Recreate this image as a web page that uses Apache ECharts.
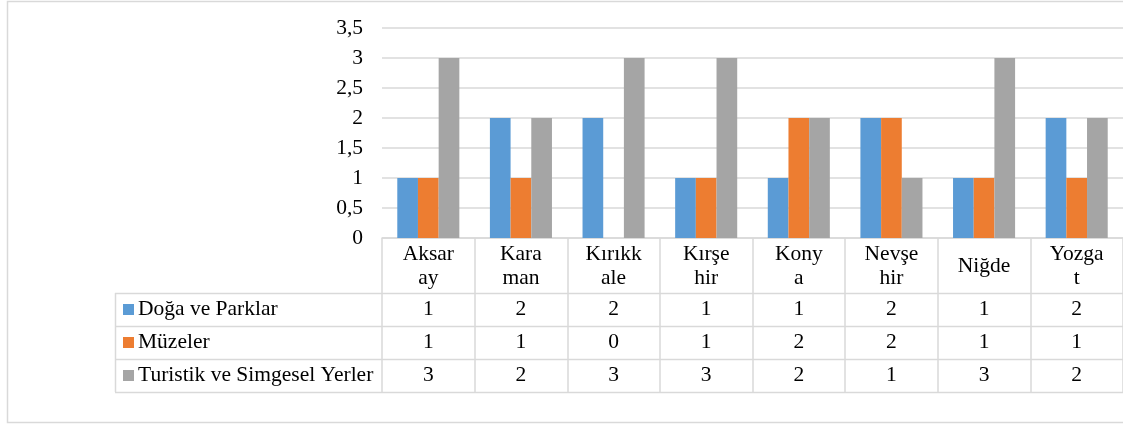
<!DOCTYPE html>
<html>
<head>
<meta charset="utf-8">
<script src="https://cdn.jsdelivr.net/npm/echarts@6/dist/echarts.min.js"></script>
<style>
  html, body { margin: 0; padding: 0; background: #fff; }
  #chart { width: 1123px; height: 424px; }
</style>
</head>
<body>
<div id="chart"></div>
<script>
// Province names as they wrap in the header cells of the data table
const categories = ['Aksar\nay', 'Kara\nman', 'Kırıkk\nale', 'Kırşe\nhir', 'Kony\na', 'Nevşe\nhir', 'Niğde', 'Yozga\nt'];
const seriesNames = ['Doğa ve Parklar', 'Müzeler', 'Turistik ve Simgesel Yerler'];
const dogaVeParklar = [1, 2, 2, 1, 1, 2, 1, 2];
const muzeler = [1, 1, 0, 1, 2, 2, 1, 1];
const turistikYerler = [3, 2, 3, 3, 2, 1, 3, 2];
const seriesValues = [dogaVeParklar, muzeler, turistikYerler];
const seriesColors = ['#5B9BD5', '#ED7D31', '#A5A5A5'];

const FONT = "'Liberation Serif', 'Times New Roman', 'DejaVu Serif', serif";
const FONT_SIZE = 21.5;
const LINE = '#d9d9d9';

// Layout of the plot and the data table under it
const plotLeft = 382, plotTop = 28, plotHeight = 210, catWidth = 93.2;
const headerBottom = 293, rowHeight = 33, tableLeft = 115;

const chart = echarts.init(document.getElementById('chart'));

const option = {
  backgroundColor: '#fff',
  animation: false,
  grid: { left: plotLeft, top: plotTop, width: catWidth * categories.length, height: plotHeight },
  xAxis: {
    type: 'category',
    data: categories,
    axisLine: { lineStyle: { color: LINE, width: 1.5 } },
    axisTick: { show: true, length: headerBottom - (plotTop + plotHeight) + rowHeight * 3, lineStyle: { color: LINE, width: 1.5 } },
    axisLabel: {
      interval: 0, margin: 28, verticalAlign: 'middle', align: 'center',
      fontFamily: FONT, fontSize: FONT_SIZE, lineHeight: 24, color: '#000'
    }
  },
  yAxis: {
    type: 'value', min: 0, max: 3.5, interval: 0.5,
    axisLine: { show: false }, axisTick: { show: false },
    splitLine: { lineStyle: { color: LINE, width: 1.5 } },
    axisLabel: {
      margin: 19, fontFamily: FONT, fontSize: FONT_SIZE, color: '#000',
      formatter: v => String(v).replace('.', ',')
    }
  },
  series: seriesNames.map((name, i) => ({
    name, type: 'bar', data: seriesValues[i],
    barGap: '0%', barCategoryGap: '33%',
    itemStyle: { color: seriesColors[i] }
  }))
};
chart.setOption(option);

// Data table: borders, legend keys, row names and values
const g = [];
g.push({ type: 'rect', shape: { x: 7.5, y: 1.5, width: 1140, height: 421 }, style: { fill: 'none', stroke: LINE, lineWidth: 1.5 }, silent: true });
const tableRight = plotLeft + catWidth * categories.length;
for (let r = 0; r <= 3; r++) {
  const y = headerBottom + r * rowHeight + 0.5;
  g.push({ type: 'line', shape: { x1: tableLeft, y1: y, x2: tableRight, y2: y }, style: { stroke: LINE, lineWidth: 1.5 }, silent: true });
}
g.push({ type: 'line', shape: { x1: tableLeft + 0.5, y1: headerBottom, x2: tableLeft + 0.5, y2: headerBottom + rowHeight * 3 }, style: { stroke: LINE, lineWidth: 1.5 }, silent: true });
seriesNames.forEach((name, r) => {
  const cy = headerBottom + r * rowHeight + rowHeight / 2;
  g.push({ type: 'rect', shape: { x: 123, y: cy - 5.5, width: 11, height: 11 }, style: { fill: seriesColors[r] }, silent: true });
  g.push({ type: 'text', x: 138, y: cy, style: { text: name, fontFamily: FONT, fontSize: FONT_SIZE, fill: '#000', verticalAlign: 'middle', align: 'left' }, silent: true });
  seriesValues[r].forEach((v, i) => {
    const cx = chart.convertToPixel({ xAxisIndex: 0 }, i);
    g.push({ type: 'text', x: cx, y: cy, style: { text: String(v), fontFamily: FONT, fontSize: FONT_SIZE, fill: '#000', verticalAlign: 'middle', align: 'center' }, silent: true });
  });
});
chart.setOption({ graphic: g });
</script>
</body>
</html>
